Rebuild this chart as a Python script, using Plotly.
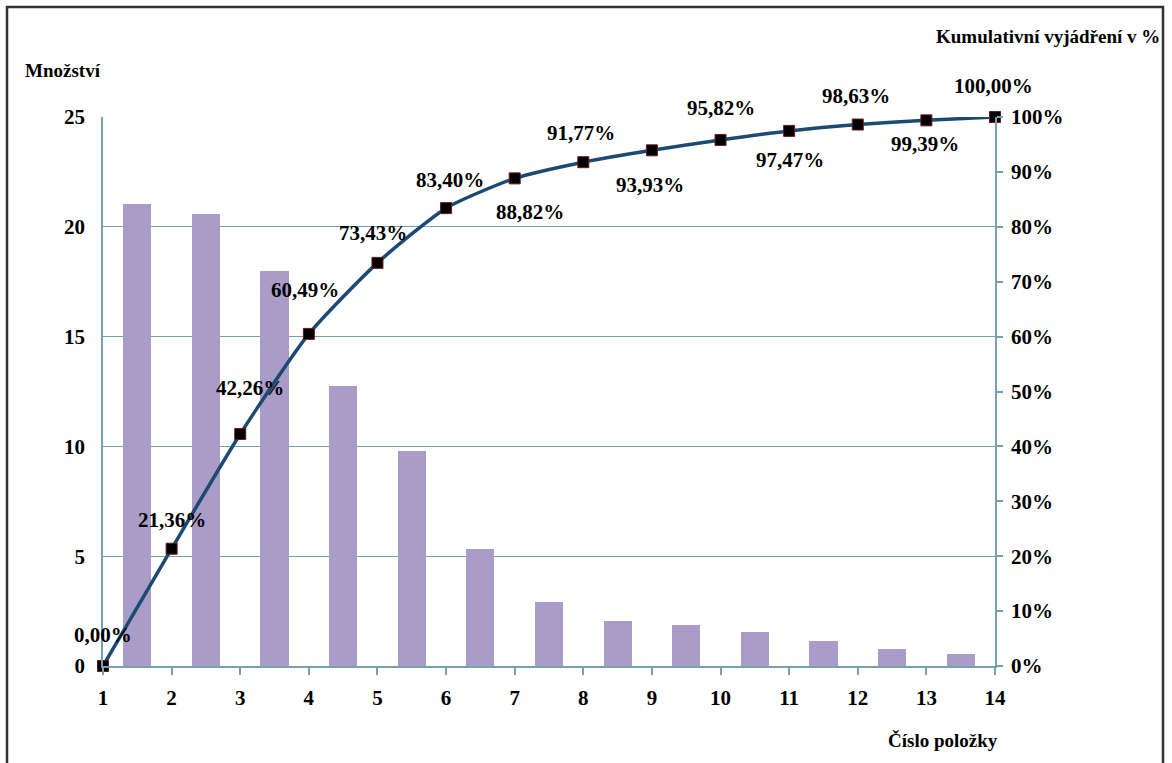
import plotly.graph_objects as go

# ---- data ----
bar_positions = [1.5, 2.5, 3.5, 4.5, 5.5, 6.5, 7.5, 8.5, 9.5, 10.5, 11.5, 12.5, 13.5]
quantities = [21.05, 20.6, 18.0, 12.75, 9.8, 5.33, 2.9, 2.07, 1.87, 1.57, 1.13, 0.76, 0.56]
item_numbers = [1, 2, 3, 4, 5, 6, 7, 8, 9, 10, 11, 12, 13, 14]
cumulative = [0.0, 21.36, 42.26, 60.49, 73.43, 83.40, 88.82, 91.77, 93.93, 95.82, 97.47, 98.63, 99.39, 100.0]
cum_labels = ["0,00%", "21,36%", "42,26%", "60,49%", "73,43%", "83,40%", "88,82%",
              "91,77%", "93,93%", "95,82%", "97,47%", "98,63%", "99,39%", "100,00%"]
# label offsets (pixels) relative to the point
label_dx = [0, 0, 10, -4, -4, 4, 15, -2, -2, 0, 1, -2, -1, -2]
label_dy = [31, 29, 46, 44, 30, 28, -34, 29, -35, 32, -29, 29, -24, 31]

FONT = "'Liberation Serif', 'Times New Roman', 'DejaVu Serif', serif"
AXC = "#74a0b0"

fig = go.Figure()
fig.add_trace(go.Bar(
    x=bar_positions, y=quantities, width=0.41,
    marker=dict(color="#a99cc8", line=dict(width=0)),
    yaxis="y", showlegend=False, hoverinfo="skip"))
fig.add_trace(go.Scatter(
    x=item_numbers, y=[c / 100 for c in cumulative], yaxis="y2",
    mode="lines+markers", cliponaxis=False,
    line=dict(color="#1c4a72", width=3.5, shape="spline", smoothing=0.6),
    marker=dict(symbol="square", size=11, color="black", line=dict(color="#6b1a1a", width=1)),
    showlegend=False, hoverinfo="skip"))

for x, c, t, dx, dy in zip(item_numbers, cumulative, cum_labels, label_dx, label_dy):
    fig.add_annotation(x=x, y=c / 100, xref="x", yref="y2", text="<b>" + t + "</b>", showarrow=False,
                       xshift=dx, yshift=dy, xanchor="center", yanchor="middle",
                       font=dict(family=FONT, size=21, color="black"))

tickfont = dict(family=FONT, size=21, color="black")
fig.update_layout(
    width=1172, height=763,
    margin=dict(l=103, r=177, t=117, b=97),
    paper_bgcolor="white", plot_bgcolor="white",
    bargap=0,
    font=dict(family=FONT),
    xaxis=dict(range=[1, 14], tickvals=item_numbers, ticktext=["<b>%d</b>" % i for i in item_numbers],
               showgrid=False, zeroline=False, showline=True, linecolor=AXC, linewidth=1.5,
               ticks="outside", ticklen=7, tickcolor=AXC, tickwidth=1.5,
               tickfont=tickfont, ticklabelstandoff=5),
    yaxis=dict(range=[0, 25], tickvals=[0, 5, 10, 15, 20, 25],
               ticktext=["<b>%d</b>" % v for v in [0, 5, 10, 15, 20, 25]],
               showgrid=True, gridcolor=AXC, gridwidth=1.2, zeroline=False,
               showline=True, linecolor=AXC, linewidth=1.5, ticks="",
               tickfont=tickfont, ticklabelstandoff=12),
    yaxis2=dict(range=[0, 1], overlaying="y", side="right",
                tickvals=[i / 10 for i in range(11)],
                ticktext=["<b>%d%%</b>" % (i * 10) for i in range(11)],
                showgrid=False, zeroline=False, showline=True, linecolor=AXC, linewidth=1.5,
                ticks="outside", ticklen=6, tickcolor=AXC, tickwidth=1.5,
                tickfont=tickfont, ticklabelstandoff=4),
)

titlefont = dict(family=FONT, size=19, color="black")
fig.add_annotation(x=(63 - 103) / 892, y=(666 - 70) / 549, xref="paper", yref="paper",
                   xanchor="center", yanchor="middle",
                   text="<b>Množství</b>", showarrow=False, font=titlefont)
fig.add_annotation(x=(1048 - 103) / 892, y=(666 - 36) / 549, xref="paper", yref="paper",
                   xanchor="center", yanchor="middle",
                   text="<b>Kumulativní vyjádření v %</b>", showarrow=False, font=titlefont)
fig.add_annotation(x=(943 - 103) / 892, y=(666 - 740) / 549, xref="paper", yref="paper",
                   xanchor="center", yanchor="middle",
                   text="<b>Číslo položky</b>", showarrow=False, font=titlefont)

# outer frame
fig.add_shape(type="rect", xref="paper", yref="paper",
              x0=(7 - 103) / 892, x1=(1163 - 103) / 892,
              y0=(666 - 800) / 549, y1=(666 - 7) / 549,
              line=dict(color="#333333", width=2.5), fillcolor="rgba(0,0,0,0)", layer="above")

fig.write_html("out.html")
